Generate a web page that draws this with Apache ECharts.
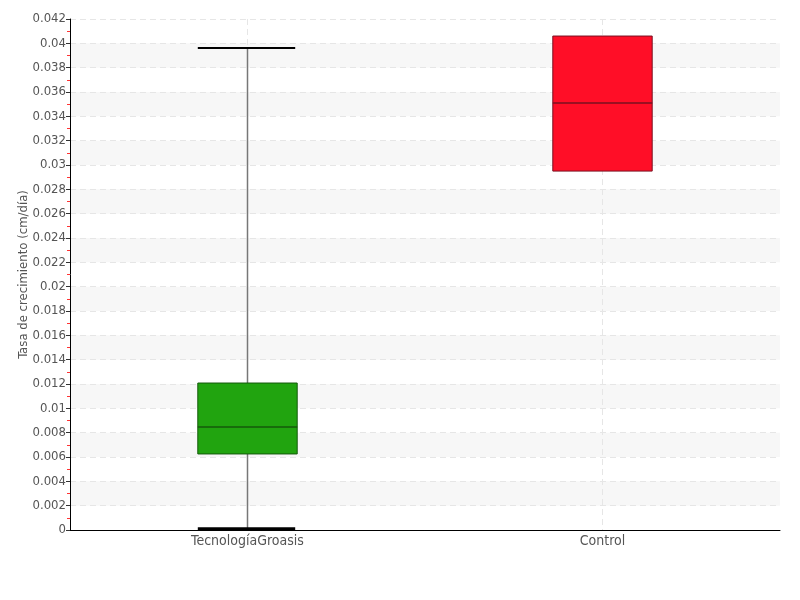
<!DOCTYPE html>
<html><head><meta charset="utf-8">
<script src="https://cdn.jsdelivr.net/npm/echarts@6/dist/echarts.min.js"></script>
<style>html,body{margin:0;padding:0;background:#fff}#c{width:800px;height:600px}</style>
</head><body><div id="c"></div>
<script>
const categories = ['TecnologíaGroasis', 'Control'];
// [min, Q1, median, Q3, max]
const boxValues = [
  [0.0001, 0.00625, 0.00847, 0.01208, 0.03961],
  [0.0295, 0.0295, 0.0351, 0.0406, 0.0406]
];
const fillColors = ['#21a40f', '#ff0e27'];
const borderColors = ['#145a0b', '#7a1020'];
const FONT = '"Liberation Sans Narrow","DejaVu Sans Condensed",sans-serif';

const chart = echarts.init(document.getElementById('c'));
chart.setOption({
  animation: false,
  grid: {left: 70, right: 20, top: 19, bottom: 70, containLabel: false},
  xAxis: {
    type: 'category', data: categories, boundaryGap: true,
    axisLine: {lineStyle: {color: '#000', width: 1}},
    axisTick: {alignWithLabel: true, length: 4, lineStyle: {color: '#555'}},
    axisLabel: {color: '#555', fontSize: 14, fontFamily: FONT, margin: 4},
    splitLine: {show: false}
  },
  yAxis: {
    type: 'value', min: 0, max: 0.042, interval: 0.002,
    name: 'Tasa de crecimiento (cm/día)', nameLocation: 'middle', nameGap: 40,
    nameMoveOverlap: false,
    nameTextStyle: {color: '#555', fontSize: 13, fontFamily: FONT},
    axisLine: {show: true, lineStyle: {color: '#000'}},
    axisTick: {show: true, length: 4, lineStyle: {color: '#333'}},
    minorTick: {show: true, splitNumber: 2, length: 3, lineStyle: {color: '#ff3333'}},
    axisLabel: {color: '#555', fontSize: 13, fontFamily: FONT, margin: 4},
    splitLine: {show: true, lineStyle: {color: '#e6e6e6', type: [6, 4]}},
    splitArea: {show: true, areaStyle: {color: ['rgba(255,255,255,0)', '#f7f7f7']}}
  },
  series: [{
    type: 'custom', z: 1, silent: true,
    data: categories.map((c, i) => [i]),
    encode: {x: 0},
    renderItem: function (params, api) {
      const p = api.coord([api.value(0), 0]);
      const cs = params.coordSys;
      return {type: 'line', shape: {x1: p[0], y1: cs.y, x2: p[0], y2: cs.y + cs.height},
        style: {stroke: '#e6e6e6', lineWidth: 1, lineDash: [6, 4]}};
    }
  }, {
    type: 'custom', z: 2,
    data: boxValues.map((v, i) => [i].concat(v)),
    encode: {x: 0, y: [1, 2, 3, 4, 5]},
    renderItem: function (params, api) {
      const i = api.value(0);
      const bw = api.size([1, 0])[0] * 0.28;
      const pMin = api.coord([i, api.value(1)]);
      const pQ1 = api.coord([i, api.value(2)]);
      const pMed = api.coord([i, api.value(3)]);
      const pQ3 = api.coord([i, api.value(4)]);
      const pMax = api.coord([i, api.value(5)]);
      const x = pQ1[0];
      const children = [];
      if (api.value(5) > api.value(4) + 1e-9) {
        children.push({type: 'line', shape: {x1: x, y1: pMax[1], x2: x, y2: pQ3[1]}, style: {stroke: '#777', lineWidth: 1.5}});
        children.push({type: 'line', shape: {x1: x - bw/2, y1: pMax[1], x2: x + bw/2 - 2, y2: pMax[1]}, style: {stroke: '#000', lineWidth: 2}});
      }
      if (api.value(1) < api.value(2) - 1e-9) {
        children.push({type: 'line', shape: {x1: x, y1: pQ1[1], x2: x, y2: pMin[1]}, style: {stroke: '#777', lineWidth: 1.5}});
        children.push({type: 'line', shape: {x1: x - bw/2, y1: pMin[1], x2: x + bw/2 - 2, y2: pMin[1]}, style: {stroke: '#000', lineWidth: 3}});
      }
      children.push({type: 'rect', shape: {x: x - bw/2, y: pQ3[1], width: bw, height: pQ1[1] - pQ3[1]},
        style: {fill: fillColors[i], stroke: borderColors[i], lineWidth: 1}});
      children.push({type: 'line', shape: {x1: x - bw/2, y1: pMed[1], x2: x + bw/2, y2: pMed[1]},
        style: {stroke: borderColors[i], lineWidth: 1.5}});
      return {type: 'group', children: children};
    }
  }]
});
</script></body></html>
